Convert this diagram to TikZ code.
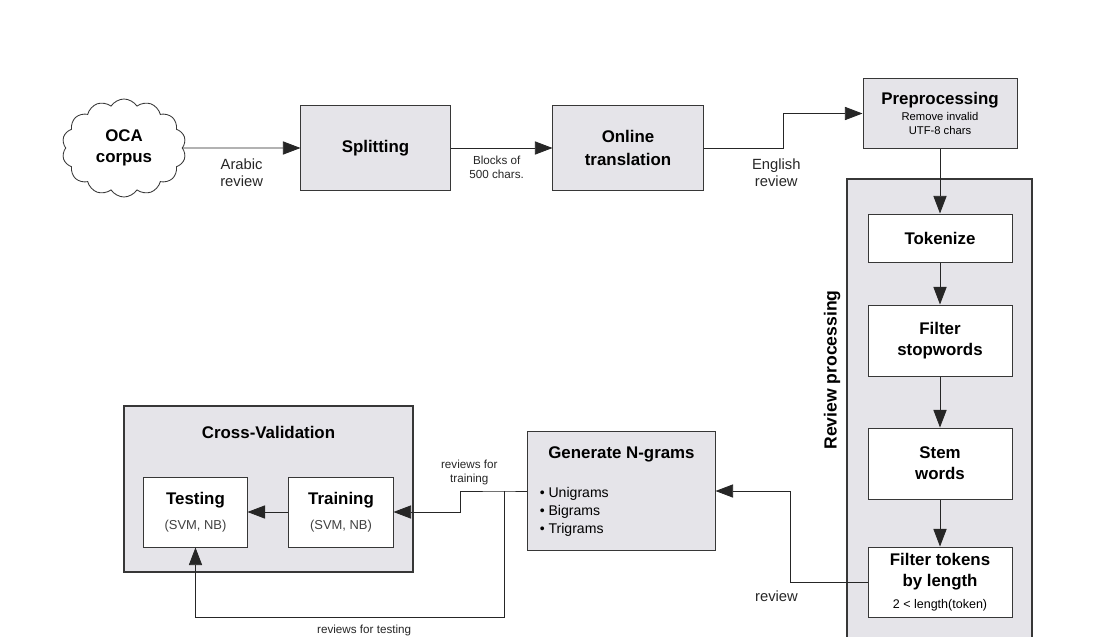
\documentclass[tikz,border=0pt]{standalone}
\usepackage{fontspec}
\setmainfont{Liberation Sans}
\usetikzlibrary{arrows.meta,positioning,shapes.symbols}
\definecolor{boxgray}{RGB}{229,228,233}
\definecolor{linegray}{RGB}{55,55,55}
\newcommand{\titlefont}{\fontsize{12}{15}\selectfont\bfseries}
\newcommand{\notefont}{\fontsize{8.3}{10}\selectfont}
\newcommand{\svmfont}{\fontsize{9.2}{11}\selectfont\color{black!75}}

\begin{document}
\begin{tikzpicture}[
    x=0.025cm, y=-0.025cm,
    box/.style={rectangle,draw=linegray,fill=boxgray,line width=0.7pt,
      align=center,font=\titlefont,inner sep=0pt},
    stepbox/.style={rectangle,draw=linegray,fill=white,line width=0.7pt,
      minimum width=3.6cm,align=center,font=\titlefont,inner sep=0pt},
    group/.style={rectangle,draw=linegray,fill=boxgray,line width=0.8pt},
    lbl/.style={font=\fontsize{10.5}{12.5}\selectfont,align=center,inner sep=0pt,text=black!85},
    small/.style={font=\notefont,align=center,inner sep=0pt,text=black!85},
    arrow/.style={-{Triangle[length=4.4mm,width=3.3mm]},line width=0.6pt,draw=black!85}
  ]
    \clip (0,0) rectangle (1097,637);

    % top row
    \node[cloud,cloud puffs=14,cloud puff arc=115,cloud ignores aspect,
      draw=linegray,fill=white,line width=0.6pt,minimum width=3.1cm,
      minimum height=2.45cm,align=center,font=\titlefont,inner sep=0pt]
      (corpus) at (124,148) {OCA\\corpus};
    \node[box,minimum width=3.725cm,minimum height=2.1cm] (split) at (375.5,148) {Splitting};
    \node[box,minimum width=3.75cm,minimum height=2.1cm] (online) at (628,148) {Online\\[1pt]translation};
    \node[box,minimum width=3.85cm,minimum height=1.725cm] (prep) at (940,113.5)
      {Preprocessing\\[-4pt]{\fontsize{8}{10}\selectfont\mdseries Remove invalid}\\[-5pt]{\fontsize{8}{10}\selectfont\mdseries UTF-8 chars}};

    % review processing
    \node[group,minimum width=4.625cm,minimum height=12.1cm] (rev) at (939.5,421) {};
    \node[rotate=90,font=\fontsize{12.5}{15}\selectfont\bfseries] at (832,370) {Review processing};
    \node[stepbox,minimum height=1.2cm] (tok) at (940,238) {Tokenize};
    \node[stepbox,minimum height=1.775cm,below=1.05cm of tok] (stop) {Filter\\stopwords};
    \node[stepbox,minimum height=1.775cm,below=1.275cm of stop] (stem) {Stem\\words};
    \node[stepbox,minimum height=1.75cm,below=1.175cm of stem] (len)
      {Filter tokens\\by length\\[1pt]{\fontsize{8.9}{11}\selectfont\mdseries 2 < length(token)}};

    % n-grams
    \node[box,minimum width=4.675cm,minimum height=2.95cm] (ngram) at (621.5,491) {};
    \node[font=\titlefont] at ([yshift=-0.575cm]ngram.north) {Generate N-grams};
    \node[anchor=north west,align=left,inner sep=0pt,font=\fontsize{10}{12.8}\selectfont]
      at ([xshift=0.3cm,yshift=-1.38cm]ngram.north west)
      {\textbullet\ Unigrams\\\textbullet\ Bigrams\\\textbullet\ Trigrams};

    % cross-validation
    \node[group,minimum width=7.225cm,minimum height=4.15cm] (cv) at (268.5,489) {};
    \node[font=\titlefont] at ([yshift=-0.675cm]cv.north) {Cross-Validation};
    \node[stepbox,minimum width=2.6cm,minimum height=1.75cm] (train) at (341,512)
      {Training\\[3pt]{\svmfont\mdseries (SVM, NB)}};
    \node[stepbox,minimum width=2.575cm,minimum height=1.75cm,left=1.025cm of train] (test)
      {Testing\\[3pt]{\svmfont\mdseries (SVM, NB)}};

    % connectors
    \draw[arrow] (corpus) -- node[below=0.25cm,lbl] {Arabic\\review} (split);
    \draw[arrow] (split) -- node[below=0.2cm,small,xshift=-0.12cm] {Blocks of\\500 chars.} (online);
    \draw[arrow] (online.east) -- ++(80,0) node[pos=0.91,below=0.25cm,lbl] {English\\review} |- (prep.west);
    \draw[arrow] (prep) -- (tok);
    \draw[arrow] (tok) -- (stop);
    \draw[arrow] (stop) -- (stem);
    \draw[arrow] (stem) -- (len);
    \draw[arrow] (len.west) -- ++(-77,0) node[pos=1,below=0.2cm,xshift=-0.35cm,lbl] {review} |- (ngram.east);
    \draw[arrow] (ngram.west) -- ++(-23,0) coordinate (fork) -- ++(-44,0)
      node[pos=0.8,above=0.15cm,small] {reviews for\\training} |- (train.east);
    \draw[arrow] (fork) -- ++(0,126) -| node[pos=0.227,below=0.2cm,small] {reviews for testing} (test.south);
    \draw[arrow] (train) -- (test);
  \end{tikzpicture}
\end{document}
